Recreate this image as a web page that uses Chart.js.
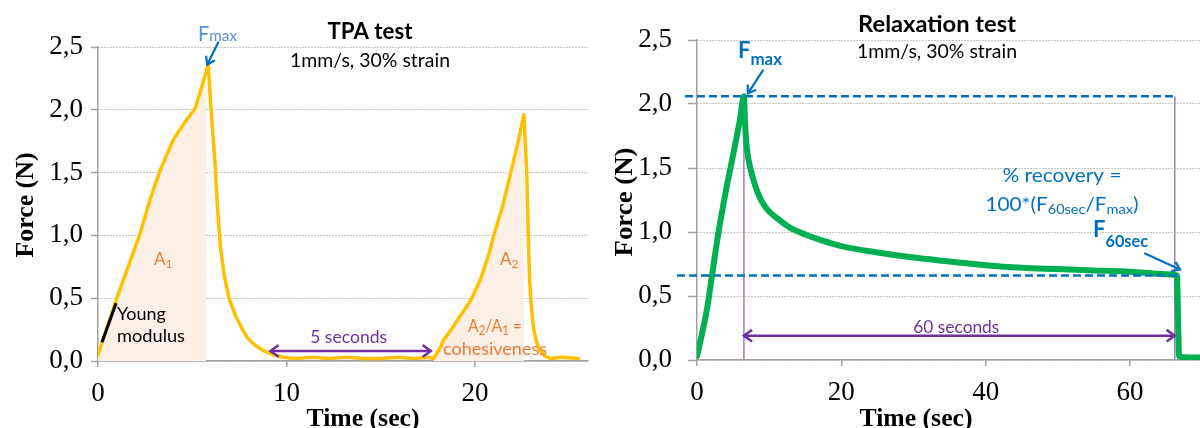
<!DOCTYPE html>
<html><head><meta charset="utf-8">
<script src="https://cdn.jsdelivr.net/npm/chart.js@4.4.1/dist/chart.umd.min.js"></script>
<style>
html,body{margin:0;padding:0;background:#fff;overflow:hidden;width:1200px;height:428px}
#c1{position:absolute;left:0;top:0;width:600px;height:428px}
#c2{position:absolute;left:600px;top:0;width:600px;height:428px}
</style></head><body>
<canvas id="c1" width="600" height="428"></canvas>
<canvas id="c2" width="600" height="428"></canvas>
<script>
// ---------- TPA test (left) ----------
const tpaTime  = [0, 0.9, 2.2, 2.77, 3.3, 3.99, 4.6, 5.16, 5.5, 5.85, 6.0, 6.2, 6.35, 6.5, 6.7, 6.95, 7.3, 7.6, 7.9, 8.3, 8.8, 9.3, 9.8, 10.5, 11.4, 12.3, 13.2, 14.1, 15.0, 15.9, 16.8, 17.5, 17.8, 18.1, 18.35, 18.7, 19.1, 19.5, 19.8, 20.3, 20.7, 21.0, 21.5, 21.9, 22.3, 22.6, 22.75, 22.83, 22.9, 23.0, 23.1, 23.25, 23.45, 23.7, 24.0, 24.6, 25.5];
const tpaForce = [0.05, 0.46, 1.0, 1.29, 1.52, 1.76, 1.9, 2.01, 2.18, 2.36, 2.0, 1.6, 1.2, 0.9, 0.68, 0.5, 0.36, 0.27, 0.19, 0.13, 0.08, 0.05, 0.03, 0.02, 0.03, 0.02, 0.03, 0.02, 0.02, 0.03, 0.02, 0.03, 0.02, 0.09, 0.17, 0.24, 0.33, 0.42, 0.49, 0.65, 0.83, 1.0, 1.25, 1.5, 1.75, 1.96, 1.5, 1.0, 0.65, 0.42, 0.27, 0.16, 0.08, 0.04, 0.02, 0.03, 0.02];
const a1Time  = [0, 0.9, 2.2, 2.77, 3.3, 3.99, 4.6, 5.16, 5.5, 5.74];
const a1Force = [0.05, 0.46, 1.0, 1.29, 1.52, 1.76, 1.9, 2.01, 2.18, 2.30];
const a2Time  = [17.8, 18.1, 18.35, 18.7, 19.1, 19.5, 19.8, 20.3, 20.7, 21.0, 21.5, 21.9, 22.3, 22.6];
const a2Force = [0.02, 0.09, 0.17, 0.24, 0.33, 0.42, 0.49, 0.65, 0.83, 1.0, 1.25, 1.5, 1.75, 1.96];
const youngTime  = [0.21, 0.96];
const youngForce = [0.15, 0.46];
const gapArrowTime = [9.15, 17.66];
const gapArrowForce = 0.08;
const tpaXTicks = [0, 10, 20];

// ---------- Relaxation test (right) ----------
const relTime  = [0, 0.6, 1.39, 2.08, 2.9, 4.0, 4.85, 5.96, 6.5, 6.65, 6.9, 7.3, 7.76, 8.2, 8.7, 9.3, 10, 11.5, 13, 15, 17.5, 20, 25, 30, 35, 40, 45, 50, 55, 60, 65, 66.5, 66.65, 66.8, 68, 69.7];
const relForce = [0.03, 0.18, 0.40, 0.66, 0.97, 1.32, 1.56, 1.88, 2.06, 1.86, 1.66, 1.52, 1.42, 1.34, 1.27, 1.21, 1.16, 1.09, 1.03, 0.98, 0.93, 0.89, 0.84, 0.80, 0.77, 0.74, 0.72, 0.71, 0.70, 0.69, 0.67, 0.66, 0.35, 0.03, 0.02, 0.02];
const fmaxLineTime = [-1.66, 65.96];
const fmaxValue = 2.06;
const f60LineTime = [-2.77, 66.65];
const f60Value = 0.66;
const markTime = [6.5, 66.2];
const spanArrowForce = 0.19;
const relXTicks = [0, 20, 40, 60];

const yTicks = [0, 0.5, 1.0, 1.5, 2.0, 2.5];

// ---------- styles ----------
const GRID = '#8f8f8f', AXIS = '#a0a0a0', PURPLE = '#7030A0', BLUE = '#0070C0', ORANGE = '#ED7D31';
const SERIF = "'Liberation Serif','Times New Roman',serif";
const tickFont = {family: SERIF, size: 27};
const pts = (xs, ys) => xs.map((v, i) => ({x: v, y: Array.isArray(ys) ? ys[i] : ys}));

function rich(ctx, parts, x, y, opt) {
  ctx.save();
  ctx.fillStyle = opt.color || '#000'; ctx.textBaseline = 'alphabetic'; ctx.textAlign = 'left';
  let w = 0;
  for (const p of parts) { ctx.font = p[1]; w += ctx.measureText(p[0]).width; }
  const sx = opt.width ? opt.width / w : 1;
  ctx.translate(x, y);
  if (opt.rot) ctx.rotate(opt.rot);
  ctx.scale(sx, 1);
  let cx = opt.align === 'center' ? -w / 2 : (opt.align === 'right' ? -w : 0);
  for (const p of parts) { ctx.font = p[1]; ctx.fillText(p[0], cx, p[2] || 0); cx += ctx.measureText(p[0]).width; }
  ctx.restore();
}
function head(ctx, x, y, ang, len, spread) {
  ctx.beginPath();
  ctx.moveTo(x - len * Math.cos(ang - spread), y - len * Math.sin(ang - spread));
  ctx.lineTo(x, y);
  ctx.lineTo(x - len * Math.cos(ang + spread), y - len * Math.sin(ang + spread));
  ctx.stroke();
}
function arrow(ctx, x1, y1, x2, y2, color, w, len) {
  ctx.save(); ctx.strokeStyle = color; ctx.lineWidth = w; ctx.lineCap = 'round'; ctx.lineJoin = 'miter';
  ctx.beginPath(); ctx.moveTo(x1, y1); ctx.lineTo(x2, y2); ctx.stroke();
  head(ctx, x2, y2, Math.atan2(y2 - y1, x2 - x1), len, 0.6);
  ctx.restore();
}
function dblArrow(ctx, x1, x2, y, color, w, len) {
  ctx.save(); ctx.strokeStyle = color; ctx.lineWidth = w; ctx.lineCap = 'butt';
  ctx.beginPath(); ctx.moveTo(x1 + 1, y); ctx.lineTo(x2 - 1, y); ctx.stroke();
  head(ctx, x2, y, 0, len, 0.62);
  head(ctx, x1, y, Math.PI, len, 0.62);
  ctx.restore();
}

function makeOptions(cfg) {
  return {
    responsive: false, animation: false, events: [],
    layout: {padding: {top: cfg.top, right: cfg.right, bottom: 0, left: 0}},
    plugins: {legend: {display: false}, tooltip: {enabled: false}},
    elements: {point: {radius: 0}, line: {tension: 0, borderJoinStyle: 'round', borderCapStyle: 'round'}},
    scales: {
      x: {
        type: 'linear', min: 0, max: cfg.xmax,
        afterBuildTicks: s => { s.ticks = cfg.xticks.map(v => ({value: v})); },
        afterFit: s => { s.height = cfg.xh; },
        grid: {drawOnChartArea: false, drawTicks: true, tickLength: 6, color: AXIS, lineWidth: 1.5},
        border: {display: true, color: AXIS, width: 1.5},
        ticks: {font: tickFont, color: '#000', padding: cfg.xpad, maxRotation: 0, autoSkip: false, callback: v => String(v)}
      },
      y: {
        type: 'linear', min: 0, max: 2.5,
        afterBuildTicks: s => { s.ticks = yTicks.map(v => ({value: v})); },
        afterFit: s => { s.width = cfg.yw; },
        grid: {color: GRID, lineWidth: 1, tickLength: cfg.ytl, tickColor: AXIS, tickWidth: 1.5},
        border: {display: true, color: AXIS, width: 1.5, dash: [1, 2]},
        ticks: {font: tickFont, color: '#000', padding: cfg.ypad, callback: v => v.toFixed(1).replace('.', ',')}
      }
    }
  };
}

// ---------- left chart ----------
const leftAnno = {
  id: 'leftAnno',
  afterDatasetsDraw(chart) {
    const {ctx, scales: {x, y}} = chart;
    const pi = tpaForce.indexOf(Math.max(...tpaForce));
    const px = x.getPixelForValue(tpaTime[pi]), py = y.getPixelForValue(tpaForce[pi]);
    arrow(ctx, px + 10, py - 22, px - 1, py, BLUE, 2.2, 8);
    const gx1 = x.getPixelForValue(gapArrowTime[0]), gx2 = x.getPixelForValue(gapArrowTime[1]);
    const gy = y.getPixelForValue(gapArrowForce);
    dblArrow(ctx, gx1, gx2, gy, PURPLE, 2.5, 10);

    rich(ctx, [['F', '21px Lato'], ['max', '16px Lato', 0]], 198, 41, {color: '#5A8FD8', width: 39});
    rich(ctx, [['TPA test', '700 22px Lato']], 370, 39, {align: 'center', width: 85});
    rich(ctx, [['1mm/s, 30% strain', '19px Lato']], 370, 67, {align: 'center', width: 160});
    rich(ctx, [['A', '17px Lato'], ['1', '12px Lato', 3]], 154, 265, {color: ORANGE});
    rich(ctx, [['Young', '18px Lato']], 117, 320, {});
    rich(ctx, [['modulus', '18px Lato']], 117, 342, {width: 68});
    rich(ctx, [['5 seconds', '18px Lato']], (gx1 + gx2) / 2 - 2, 343, {align: 'center', color: PURPLE, width: 77});
    rich(ctx, [['A', '17px Lato'], ['2', '12px Lato', 3]], 500, 265, {color: ORANGE});
    rich(ctx, [['A', '18px Lato'], ['2', '13px Lato', 3], ['/A', '18px Lato'], ['1', '13px Lato', 3], [' =', '18px Lato']], 495, 332, {align: 'center', color: ORANGE, width: 54});
    rich(ctx, [['cohesiveness', '18px Lato']], 495, 355, {align: 'center', color: ORANGE, width: 104});
    rich(ctx, [['Time (sec)', 'bold 26px ' + SERIF]], 363, 426, {align: 'center', width: 113});
    rich(ctx, [['Force (N)', 'bold 26px ' + SERIF]], 33, 205, {align: 'center', width: 105, rot: -Math.PI / 2});
  }
};

new Chart(document.getElementById('c1'), {
  type: 'line',
  data: {datasets: [
    {data: pts(youngTime, youngForce), borderColor: '#000', borderWidth: 3, borderCapStyle: 'butt', fill: false, order: 0},
    {data: pts(tpaTime, tpaForce), borderColor: '#FFC000', borderWidth: 3.5, fill: false, order: 1},
    {data: pts(a1Time, a1Force), borderWidth: 0, borderColor: 'rgba(0,0,0,0)', backgroundColor: '#FCEFE6', fill: 'origin', order: 5},
    {data: pts(a2Time, a2Force), borderWidth: 0, borderColor: 'rgba(0,0,0,0)', backgroundColor: '#FCEFE6', fill: 'origin', order: 5}
  ]},
  options: makeOptions({top: 47, right: 12, xmax: 26, xticks: tpaXTicks, xh: 67, yw: 98, ytl: 7, ypad: 8, xpad: 11}),
  plugins: [leftAnno]
});

// ---------- right chart ----------
const OFF = 600;
const rightAnno = {
  id: 'rightAnno',
  afterDatasetsDraw(chart) {
    const {ctx, scales: {x, y}} = chart;
    const pi = relForce.indexOf(Math.max(...relForce));
    const px = x.getPixelForValue(relTime[pi]), py = y.getPixelForValue(relForce[pi]);
    arrow(ctx, px + 19, py - 26, px + 4, py - 3, BLUE, 2.2, 8);
    const ex = x.getPixelForValue(f60LineTime[1]), ey = y.getPixelForValue(f60Value);
    arrow(ctx, ex - 33, ey - 22, ex + 2, ey - 6, BLUE, 2.2, 8);
    const sx1 = x.getPixelForValue(markTime[0]), sx2 = x.getPixelForValue(markTime[1]);
    const sy = y.getPixelForValue(spanArrowForce);
    dblArrow(ctx, sx1, sx2, sy, PURPLE, 2.5, 10);

    rich(ctx, [['Relaxation test', '700 22px Lato']], 937 - OFF, 32, {align: 'center', width: 158});
    rich(ctx, [['1mm/s, 30% strain', '19px Lato']], 937 - OFF, 58, {align: 'center', width: 160});
    rich(ctx, [['F', '700 22px Lato'], ['max', '700 17px Lato', 7]], 738 - OFF, 58, {color: BLUE, width: 44});
    rich(ctx, [['% recovery =', '20px Lato']], 1062 - OFF, 182, {align: 'center', color: BLUE, width: 119});
    rich(ctx, [['100*(F', '20px Lato'], ['60sec', '14px Lato', 3], ['/F', '20px Lato'], ['max', '14px Lato', 3], [')', '20px Lato']], 1062 - OFF, 211, {align: 'center', color: BLUE, width: 153});
    rich(ctx, [['F', '700 23px Lato'], ['60sec', '700 17px Lato', 10]], 1093 - OFF, 237, {color: BLUE, width: 55});
    rich(ctx, [['60 seconds', '18px Lato']], (sx1 + sx2) / 2 - 3, 333, {align: 'center', color: PURPLE, width: 86});
    rich(ctx, [['Time (sec)', 'bold 26px ' + SERIF]], 916 - OFF, 426, {align: 'center', width: 113});
    rich(ctx, [['Force (N)', 'bold 26px ' + SERIF]], 632 - OFF, 202, {align: 'center', width: 109, rot: -Math.PI / 2});
  }
};

new Chart(document.getElementById('c2'), {
  type: 'line',
  data: {datasets: [
    {data: pts(fmaxLineTime, fmaxValue), borderColor: BLUE, borderWidth: 2.5, borderDash: [8, 4], borderCapStyle: 'butt', fill: false, clip: false, order: 0},
    {data: pts(f60LineTime, f60Value), borderColor: BLUE, borderWidth: 2.5, borderDash: [8, 4], borderCapStyle: 'butt', fill: false, clip: false, order: 0},
    {data: pts(relTime, relForce), borderColor: '#00B050', borderWidth: 6, cubicInterpolationMode: 'monotone', fill: false, order: 1},
    {data: pts([markTime[0], markTime[0]], [0, fmaxValue]), borderColor: '#A07CC8', borderWidth: 1.5, borderCapStyle: 'butt', fill: false, order: 2},
    {data: pts([markTime[1], markTime[1]], [0, fmaxValue]), borderColor: '#A07CC8', borderWidth: 1.5, borderCapStyle: 'butt', fill: false, order: 2}
  ]},
  options: makeOptions({top: 40, right: 0, xmax: 69.7, xticks: relXTicks, xh: 68, yw: 97, ytl: 9, ypad: 16, xpad: 11}),
  plugins: [rightAnno]
});
</script>
</body></html>
